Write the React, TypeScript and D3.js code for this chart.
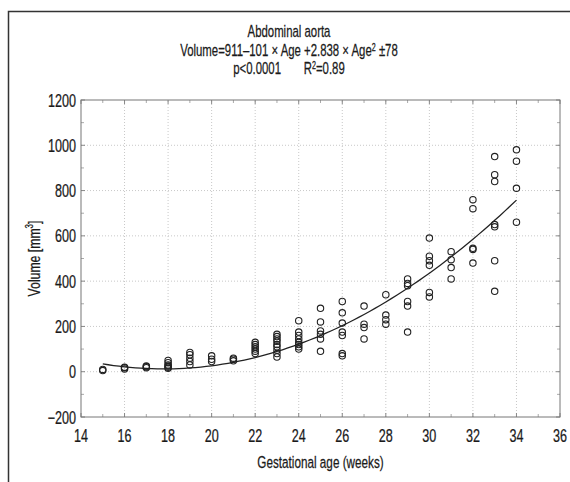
import React from "react";
import * as d3 from "d3";

const xTicks = [14, 16, 18, 20, 22, 24, 26, 28, 30, 32, 34, 36];
const yTicks = [-200, 0, 200, 400, 600, 800, 1000, 1200];

const ages = [15, 16, 17, 18, 19, 20, 21, 22, 23, 24, 25, 26, 27, 28, 29, 30, 31, 32, 33, 34];
const volumes: number[][] = [
  [5, 10],
  [12, 18, 20],
  [18, 22, 25],
  [15, 20, 25, 30, 40, 50],
  [30, 45, 60, 75, 85],
  [45, 55, 70],
  [48, 55, 60],
  [80, 90, 100, 110, 120, 130],
  [65, 80, 95, 110, 120, 135, 145, 155, 165],
  [225, 175, 160, 145, 130, 120, 110, 100],
  [280, 220, 180, 165, 145, 90],
  [310, 260, 215, 175, 160, 80, 70],
  [290, 210, 195, 145],
  [340, 250, 230, 210],
  [410, 390, 380, 310, 290, 175],
  [590, 510, 490, 470, 350, 330],
  [530, 495, 460, 410],
  [760, 720, 545, 540, 480],
  [950, 870, 840, 650, 640, 490, 355],
  [980, 930, 810, 660],
];

const coef = [911, -101, 2.838];

const W = 570;
const H = 482;
const margin = { left: 81, right: 10, top: 100, bottom: 65 };
const font = "'Liberation Sans', Arial, sans-serif";

function T(props: { x: number; y: number; anchor?: string; rotate?: number; size?: number; sx?: number; children: React.ReactNode }) {
  const { x, y, anchor = "middle", rotate = 0, size = 16, sx = 0.7, children } = props;
  return (
    <g transform={`translate(${x},${y}) rotate(${rotate}) scale(${sx},1)`}>
      <text x={0} y={0} textAnchor={anchor} fontFamily={font} fontSize={size} fill="#1a1a1a" stroke="#1a1a1a" strokeWidth={0.25}>
        {children}
      </text>
    </g>
  );
}

export default function App() {
  const x = d3.scaleLinear().domain([14, 36]).range([margin.left, W - margin.right]);
  const y = d3.scaleLinear().domain([-200, 1200]).range([H - margin.bottom, margin.top]);

  const points: { a: number; v: number }[] = [];
  ages.forEach((a, i) => volumes[i].forEach((v) => points.push({ a, v })));

  const curveAges = d3.range(15, 34.001, 0.25);
  const line = d3
    .line<number>()
    .x((a) => x(a))
    .y((a) => y(coef[0] + coef[1] * a + coef[2] * a * a));

  const minorX = d3.range(15, 36, 2);
  const minorY = d3.range(-100, 1200, 200);
  const x0 = x(14), x1 = x(36), y0 = y(-200), y1 = y(1200);

  return (
    <svg width={W} height={H} style={{ position: "absolute", left: 0, top: 0 }}>
      <rect x={0} y={0} width={W} height={H} fill="#fff" />
      <path d={`M8.5,${H} V11.5 H${W}`} fill="none" stroke="#333" strokeWidth={1.5} />
      {/* grid */}
      {xTicks.slice(1, -1).map((t) => (
        <line key={"gx" + t} x1={x(t)} x2={x(t)} y1={y0} y2={y1} stroke="#c8c8c8" strokeDasharray="1,2" />
      ))}
      {yTicks.slice(1, -1).map((t) => (
        <line key={"gy" + t} x1={x0} x2={x1} y1={y(t)} y2={y(t)} stroke="#c8c8c8" strokeDasharray="1,2" />
      ))}
      {/* ticks */}
      {xTicks.map((t) => (
        <g key={"tx" + t}>
          <line x1={x(t)} x2={x(t)} y1={y0} y2={y0 - 4} stroke="#888" />
          <line x1={x(t)} x2={x(t)} y1={y1} y2={y1 + 4} stroke="#888" />
        </g>
      ))}
      {minorX.map((t) => (
        <g key={"mx" + t}>
          <line x1={x(t)} x2={x(t)} y1={y0} y2={y0 - 3} stroke="#aaa" />
          <line x1={x(t)} x2={x(t)} y1={y1} y2={y1 + 3} stroke="#aaa" />
        </g>
      ))}
      {yTicks.map((t) => (
        <g key={"ty" + t}>
          <line x1={x0} x2={x0 + 4} y1={y(t)} y2={y(t)} stroke="#888" />
          <line x1={x1} x2={x1 - 4} y1={y(t)} y2={y(t)} stroke="#888" />
        </g>
      ))}
      {minorY.map((t) => (
        <g key={"my" + t}>
          <line x1={x0} x2={x0 + 3} y1={y(t)} y2={y(t)} stroke="#aaa" />
          <line x1={x1} x2={x1 - 3} y1={y(t)} y2={y(t)} stroke="#aaa" />
        </g>
      ))}
      <rect x={x0} y={y1} width={x1 - x0} height={y0 - y1} fill="none" stroke="#777" />
      {/* curve */}
      <path d={line(curveAges) || ""} fill="none" stroke="#222" strokeWidth={1.3} />
      {/* points */}
      {points.map((p, i) => (
        <circle key={i} cx={x(p.a)} cy={y(p.v)} r={3.2} fill="none" stroke="#222" strokeWidth={1.1} />
      ))}
      {/* tick labels */}
      {xTicks.map((t) => (
        <T key={"lx" + t} x={x(t)} y={y0 + 25} size={18} sx={0.7}>{t}</T>
      ))}
      {yTicks.map((t) => (
        <T key={"ly" + t} x={x0 - 5} y={y(t) + 6.5} anchor="end" size={18} sx={0.7}>
          {t < 0 ? "\u2212" + Math.abs(t) : t}
        </T>
      ))}
      <T x={(x0 + x1) / 2} y={468} size={17} sx={0.69}>Gestational age (weeks)</T>
      <T x={40} y={(y0 + y1) / 2} rotate={-90} size={17} sx={0.72}>
        Volume [mm<tspan dy={-7} fontSize={11}>3</tspan><tspan dy={7}>]</tspan>
      </T>
      <T x={289} y={37} size={16} sx={0.712}>Abdominal aorta</T>
      <T x={289} y={55.5} size={16} sx={0.712}>
        Volume=911–101 × Age +2.838 × Age<tspan dy={-5} fontSize={10}>2</tspan>
        <tspan dy={5}> ±78</tspan>
      </T>
      <T x={289} y={74} size={16} sx={0.712}>
        p&lt;0.0001{"\u2003\u2003"}R<tspan dy={-5} fontSize={10}>2</tspan><tspan dy={5}>=0.89</tspan>
      </T>
    </svg>
  );
}
